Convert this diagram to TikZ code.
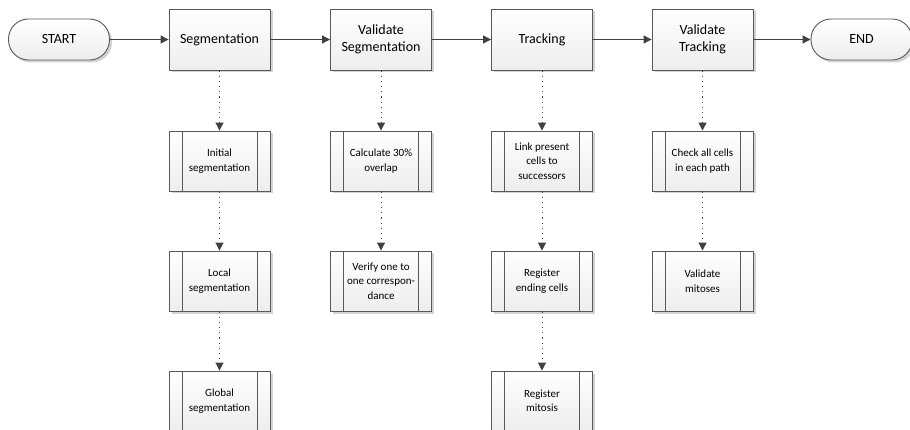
\documentclass[tikz,border=0pt]{standalone}
\usepackage{fontspec}
\setmainfont{Carlito}
\usetikzlibrary{arrows.meta,shadows}
\definecolor{edgegray}{HTML}{595959}
\definecolor{linegray}{HTML}{404040}
\definecolor{shadowgray}{HTML}{C8C8C8}
\tikzset{
  boxfill/.style={top color=white, bottom color=gray!14, draw=edgegray, line width=0.9pt,
    drop shadow={shadow xshift=2.5pt, shadow yshift=-2.5pt, fill=shadowgray, opacity=0.8}},
  mainbox/.style={boxfill, minimum width=101pt, minimum height=61pt, inner sep=0pt,
    align=center, font=\fontsize{14}{17}\selectfont},
  subbox/.style={boxfill, minimum width=101pt, minimum height=60pt, inner sep=0pt,
    align=center, font=\fontsize{11}{14.5}\selectfont,
    path picture={
      \draw[edgegray, line width=0.9pt]
        ([xshift=13pt]path picture bounding box.north west) --
        ([xshift=13pt]path picture bounding box.south west);
      \draw[edgegray, line width=0.9pt]
        ([xshift=-13pt]path picture bounding box.north east) --
        ([xshift=-13pt]path picture bounding box.south east);
    }},
  terminal/.style={boxfill, rounded corners=20pt, minimum width=101pt, minimum height=41pt,
    inner sep=0pt, font=\fontsize{14}{17}\selectfont},
  flow/.style={draw=linegray, line width=1.1pt, -{Triangle[length=8pt,width=8pt]}},
  detail/.style={draw=linegray, line width=1pt, dash pattern=on 1.2pt off 4pt,
    -{Triangle[length=8pt,width=8pt]}},
}
\begin{document}
\begin{tikzpicture}[x=1pt, y=-1pt]
\useasboundingbox (0,0) rectangle (910,430);
\clip (0,0) rectangle (910,430);

% main process row
\node[terminal] (start) at (59,39.5) {START};
\node[mainbox] (seg) at (219.5,39.5) {Segmentation};
\node[mainbox] (vseg) at (381,39.5) {Validate\\Segmentation};
\node[mainbox] (trk) at (542,39.5) {Tracking};
\node[mainbox] (vtrk) at (702.5,39.5) {Validate\\Tracking};
\node[terminal] (end) at (861.5,39.5) {END};

\draw[flow] (start) -- (seg);
\draw[flow] (seg) -- (vseg);
\draw[flow] (vseg) -- (trk);
\draw[flow] (trk) -- (vtrk);
\draw[flow] (vtrk) -- (end);

% segmentation steps
\node[subbox] (s1) at (219.5,161) {Initial\\segmentation};
\node[subbox] (s2) at (219.5,281) {Local\\segmentation};
\node[subbox] (s3) at (219.5,401) {Global\\segmentation};
\draw[detail] (seg) -- (s1);
\draw[detail] (s1) -- (s2);
\draw[detail] (s2) -- (s3);

% segmentation validation steps
\node[subbox] (v1) at (381,161) {Calculate 30\%\\overlap};
\node[subbox] (v2) at (381,281) {Verify one to\\one correspon-\\dance};
\draw[detail] (vseg) -- (v1);
\draw[detail] (v1) -- (v2);

% tracking steps
\node[subbox] (t1) at (542,161) {Link present\\cells to\\successors};
\node[subbox] (t2) at (542,281) {Register\\ending cells};
\node[subbox] (t3) at (542,401) {Register\\mitosis};
\draw[detail] (trk) -- (t1);
\draw[detail] (t1) -- (t2);
\draw[detail] (t2) -- (t3);

% tracking validation steps
\node[subbox] (c1) at (702.5,161) {Check all cells\\in each path};
\node[subbox] (c2) at (702.5,281) {Validate\\mitoses};
\draw[detail] (vtrk) -- (c1);
\draw[detail] (c1) -- (c2);
\end{tikzpicture}
\end{document}
